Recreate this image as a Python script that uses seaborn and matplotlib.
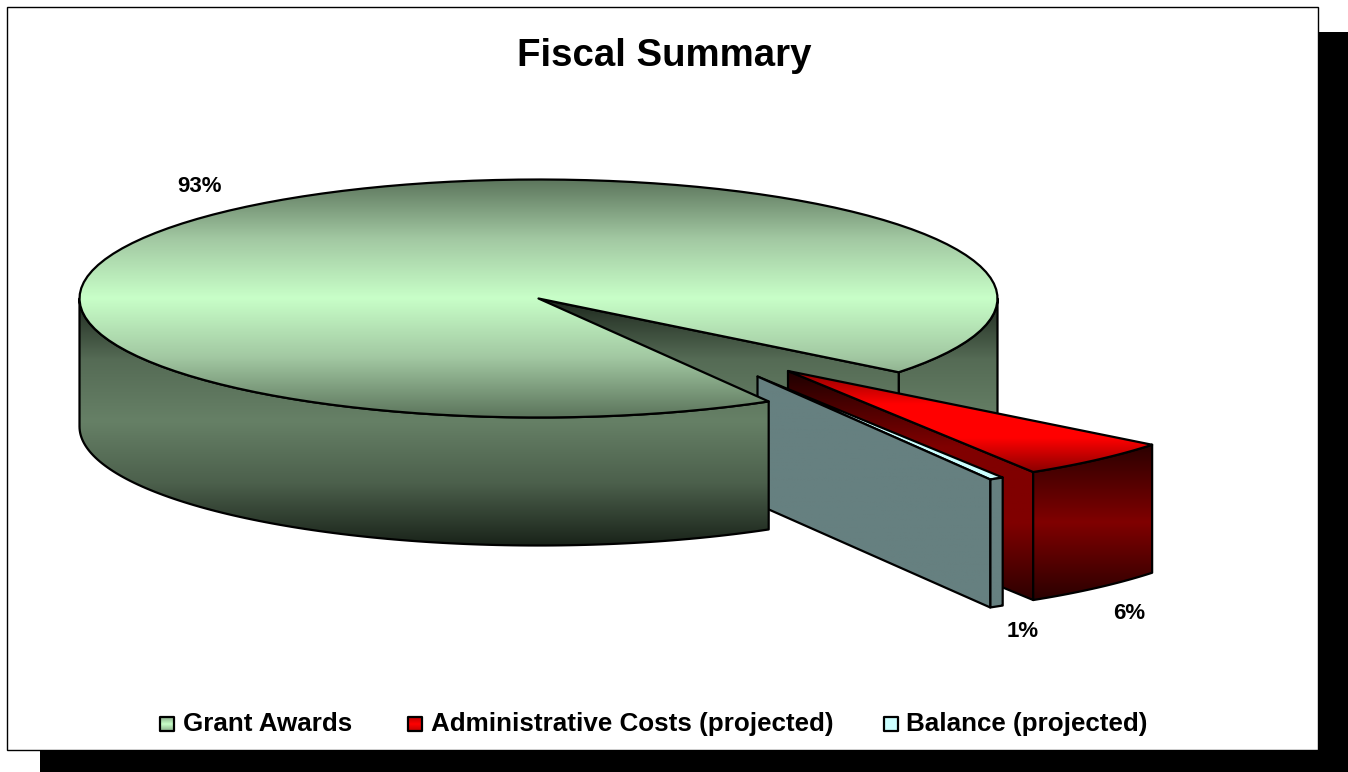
import numpy as np
import matplotlib
matplotlib.use("Agg")
import matplotlib.pyplot as plt
from matplotlib.patches import Polygon, Rectangle
import seaborn as sns

# datos
categorias = ["Grant Awards", "Administrative Costs (projected)", "Balance (projected)"]
porcentajes = [94.0, 5.5, 0.5]
etiquetas = ["93%", "6%", "1%"]

sns.set_theme(style="white")
plt.rcParams["font.family"] = ["Liberation Sans", "DejaVu Sans"]

# geometria del pastel en pixeles de la figura
cx, cy = 538.5, 298.5
rx, ry = 459, 119
rx_sep = 464
alto = 128
inicio = 38.3
sep_admin = (249.5, 72.5)
sep_balance = (219, 78)

LINEA = 1.6


def paleta(colores):
    return sns.blend_palette(colores, n_colors=256, as_cmap=True)


verde_top = paleta(["#5c755c", "#a2c8a2", "#c8ffc8", "#a2c8a2", "#5c755c"])
verde_lado = paleta(["#1c261c", "#556b55", "#668066", "#4c604c", "#1a241a"])
rojo_top = paleta(["#8a0000", "#ff0000", "#ff0000", "#8a0000"])
rojo_pared = paleta(["#1c0000", "#800000", "#800000", "#2c0000"])
rojo_lado = paleta(["#2a0000", "#800000", "#2a0000"])
gris = paleta(["#668080", "#668080"])
cian = paleta(["#ccffff", "#ccffff"])

fig = plt.figure(figsize=(13.48, 7.72), dpi=100)
ax = fig.add_axes([0, 0, 1, 1])
ax.axis("off")


def arco(x0, y0, radio_x, t0, t1, dy=0):
    t = np.radians(np.linspace(t0, t1, 120))
    return np.column_stack([x0 + radio_x * np.cos(t), y0 + ry * np.sin(t) + dy])


def cara(puntos, cmap, y0=None, y1=None, z=2):
    # relleno con degradado vertical recortado al poligono
    puntos = np.asarray(puntos)
    y0 = puntos[:, 1].min() if y0 is None else y0
    y1 = puntos[:, 1].max() if y1 is None else y1
    parche = Polygon(puntos, closed=True, fc="none", ec="black", lw=LINEA,
                     joinstyle="round", zorder=z + 0.1)
    ax.add_patch(parche)
    grad = np.linspace(0, 1, 256).reshape(-1, 1)
    im = ax.imshow(grad, cmap=cmap, aspect="auto", vmin=0, vmax=1, zorder=z,
                   extent=(puntos[:, 0].min(), puntos[:, 0].max(), y1, y0))
    im.set_clip_path(parche)


def pared_curva(x0, y0, radio_x, t0, t1, cmap, y_a=None, y_b=None, z=2):
    arriba = arco(x0, y0, radio_x, t0, t1)
    abajo = arco(x0, y0, radio_x, t1, t0, dy=alto)
    cara(np.vstack([arriba, abajo]), cmap, y_a, y_b, z)


def pared_corte(x0, y0, punto, cmap, y_a=None, y_b=None, z=2):
    px, py = punto
    cara([(x0, y0), (px, py), (px, py + alto), (x0, y0 + alto)], cmap, y_a, y_b, z)


# angulos de cada porcion a partir de los porcentajes
barrido = np.array(porcentajes) * 3.6
fin_admin = inicio + barrido[1]
fin_balance = fin_admin + barrido[2]
fin_grant = fin_balance + barrido[0]

# fondo: sombra y marco
ax.add_patch(Rectangle((40, 32), 1308, 740, fc="black", ec="none", zorder=0))
ax.add_patch(Rectangle((7, 7), 1311, 743, fc="white", ec="black", lw=1, zorder=1))

y_lado = (cy - 1, cy + ry + alto)

# Grant Awards: pared derecha y pared del corte
pared_curva(cx, cy, rx, 0, inicio, verde_lado, *y_lado, z=2)
pared_corte(cx, cy, arco(cx, cy, rx, inicio, inicio, 0)[0], verde_lado, *y_lado, z=3)

# Administrative Costs
ax_r, ay_r = cx + sep_admin[0], cy + sep_admin[1]
pared_corte(ax_r, ay_r, arco(ax_r, ay_r, rx_sep, fin_admin, fin_admin)[0], rojo_pared, z=4)
pared_curva(ax_r, ay_r, rx_sep, inicio, fin_admin, rojo_lado, z=5)
cara(np.vstack([[(ax_r, ay_r)], arco(ax_r, ay_r, rx_sep, inicio, fin_admin)]), rojo_top, z=6)

# Balance
bx, by = cx + sep_balance[0], cy + sep_balance[1]
cara(np.vstack([[(bx, by)], arco(bx, by, rx_sep, fin_admin, fin_balance)]), cian, z=7)
pared_curva(bx, by, rx_sep, fin_admin, fin_balance, gris, z=8)
pared_corte(bx, by, arco(bx, by, rx_sep, fin_balance, fin_balance)[0], gris, z=9)

# Grant Awards: frente y cara superior por encima del resto
pared_curva(cx, cy, rx, fin_balance, 180, verde_lado, *y_lado, z=10)
cara(np.vstack([[(cx, cy)], arco(cx, cy, rx, fin_balance, fin_grant)]), verde_top, z=11)

# titulo y etiquetas
ax.text(664, 66, "Fiscal Summary", fontsize=27.6, fontweight="bold", color="black",
        ha="center", va="baseline", zorder=20)
pos_etiquetas = [(199.5, 192), (1129.5, 619), (1023, 637)]
for texto, (x, y) in zip(etiquetas, pos_etiquetas):
    ax.text(x, y, texto, fontsize=16, fontweight="bold", color="black",
            ha="center", va="baseline", zorder=20)

# leyenda
pos_leyenda = [(160, 183), (408, 431), (884, 906)]
colores_leyenda = [paleta(["#8aae8a", "#c8ffc8", "#8aae8a"]),
                   paleta(["#c00000", "#ff0000", "#c00000"]),
                   paleta(["#ccffff", "#ccffff"])]
for nombre, (xc, xt), cmap in zip(categorias, pos_leyenda, colores_leyenda):
    cuadro = [(xc, 717), (xc + 14, 717), (xc + 14, 731), (xc, 731)]
    cara(cuadro, cmap, z=20)
    ax.text(xt, 731, nombre, fontsize=18.7, fontweight="bold", color="black",
            ha="left", va="baseline", zorder=20)

ax.set_xlim(0, 1348)
ax.set_ylim(772, 0)

fig.savefig("out.png", dpi=100)
